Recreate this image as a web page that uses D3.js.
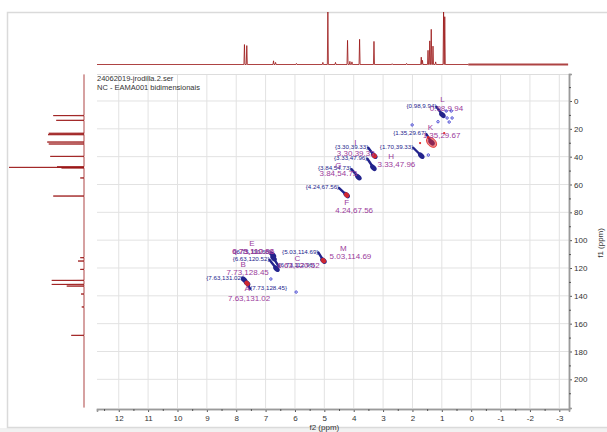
<!DOCTYPE html>
<html>
<head>
<meta charset="utf-8">
<script src="https://cdn.jsdelivr.net/npm/d3@7"></script>
<style>
  html, body { margin: 0; padding: 0; background: #fff; overflow: hidden; }
  text { font-family: "Liberation Sans", Arial, sans-serif; }
</style>
</head>
<body>
<svg id="chart" width="607" height="432"></svg>
<script>
// ---- HSQC cross peaks: letter, 1H shift (f2, ppm), 13C shift (f1, ppm), phase
const peakLetters = ["A", "B", "C", "D", "E", "F", "G", "H", "I", "J", "K", "L", "M"];
const peakH = [7.63, 7.73, 6.63, 6.73, 6.75, 4.24, 3.84, 1.70, 3.30, 3.33, 1.35, 0.98, 5.03];
const peakC = [131.02, 128.45, 120.52, 112.96, 110.68, 67.56, 54.73, 39.33, 39.33, 47.96, 29.67, 9.94, 114.69];
const peakPhase = ["neg", "pos", "pos", "pos", "pos", "neg", "pos", "pos", "neg", "pos", "neg", "pos", "neg"];

// small contour fragments (noise) around the cross peaks
const noiseH = [2.01, 1.13, 0.85, 0.68, 0.82, 0.65, 0.75, 1.46, 6.82, 5.96];
const noiseC = [17.2, 14.9, 7.2, 7.2, 12.2, 12.2, 15.1, 38.8, 127.9, 137.3];
const noiseNegH = [1.74, 0.92, 1.47];
const noiseNegC = [30.2, 23.0, 26.0];

// 1H projection (top trace): shift and relative intensity
const topPpm = [7.72, 7.64, 6.73, 6.66, 5.95, 5.05, 4.88, 4.62, 4.21, 4.13, 4.06, 3.80, 3.31,
                2.69, 2.20, 1.70, 1.66, 1.47, 1.41, 1.36, 1.30, 1.21, 0.94, 0.90];
const topInt = [38, 36, 7, 4, 2, 4, 100, 4, 46, 6, 5, 48, 44,
                1.5, 2, 14, 8, 27, 45, 67, 35, 5, 100, 91];
const topNoisyRange = [0.1, -3.3];

// 13C projection (left trace): shift and relative intensity
const leftPpm = [10.5, 13.9, 23.2, 24.2, 29.5, 30.9, 39.8, 47.3, 47.7, 48.1, 55.3, 68.3,
                 112.6, 115.0, 121.0, 128.9, 131.8, 133.0, 138.7, 148.0, 168.4];
const leftInt = [41, 37, 47, 48, 49, 47, 45, 36, 100, 30, 5, 41,
                 5, 8, 5, 43, 43, 23, 4, 3, 17];

// axis ticks
const f2Ticks = d3.range(12, -3.5, -1);
const f1Ticks = d3.range(0, 201, 20);

const titleLines = ["24062019-jrodilla.2.ser", "NC - EAMA001 bidimensionais"];

// label placement for each cross peak (pixel offsets from the peak)
// tag: blue "{H,C}" label [dx, dy, anchor]; letter / value: purple texts [dx, dy]
const labelLayout = {
  A: { tag: [-4, -3, "end"],   letter: [0, 7.5],   value: [2, 18] },
  B: { tag: [6, 10, "start"],  letter: [-1, -12.5], value: [3.5, -4.5] },
  C: { tag: [-7, -8, "end"],   letter: [21, -8],   value: [22, -0.5] },
  D: { tag: [5, 9, "start"],   letter: null,       value: [-20, -4] },
  E: { tag: [-2, -1.5, "end"], letter: [-21, -9],  value: [-20, -1] },
  F: { tag: [-7.5, -6, "end"], letter: [0, 10],    value: [7.5, 18] },
  G: { tag: [-7, -7, "end"],   letter: [-20, -9],  value: [-20, -1] },
  H: { tag: [-8, -7, "end"],   letter: [-30, 3.5], value: null },
  I: { tag: [-6, -7, "end"],   letter: [-19, -11], value: [-18.5, 0] },
  J: { tag: [-6, -8, "end"],   letter: null,       value: [23, -0.5] },
  K: { tag: [-5, -7, "end"],   letter: [-1, -12],  value: [10, -4] },
  L: { tag: [-6, -7, "end"],   letter: [0, -13],   value: [4, -4] },
  M: { tag: [-5, -7, "end"],   letter: [20, -10],  value: [27, -1.5] }
};

// ---- colours
const specColor = "#9a1414";
const posColor = "#23238c";
const negColor = "#e02828";
const annColor = "#9b3b9b";
const gridColor = "#e2e2e2";
const axisColor = "#9a9a9a";

const svg = d3.select("#chart");

// page frame
svg.append("rect").attr("x", 0).attr("y", 428).attr("width", 607).attr("height", 4).attr("fill", "#f1f1f1");
svg.append("rect").attr("x", 7.5).attr("y", 12.5).attr("width", 620).attr("height", 415)
  .attr("fill", "none").attr("stroke", "#dadada").attr("stroke-width", 1.5);

// ---- scales
const plot = { left: 97, right: 569, top: 74, bottom: 408 };
const x = d3.scaleLinear().domain([12.74, -3.33]).range([plot.left, plot.right]);
const y = d3.scaleLinear().domain([-19.4, 220.6]).range([plot.top, plot.bottom]);
const topY = d3.scaleLinear().domain([0, 100]).range([64.5, 12]);
const leftX = d3.scaleLinear().domain([0, 100]).range([84, 9]);

// ---- grid
const grid = svg.append("g");
grid.selectAll("line.v").data(f2Ticks).join("line")
  .attr("x1", d => x(d)).attr("x2", d => x(d))
  .attr("y1", plot.top).attr("y2", plot.bottom)
  .attr("stroke", gridColor).attr("stroke-width", 1);
grid.selectAll("line.h").data(f1Ticks).join("line")
  .attr("x1", plot.left).attr("x2", plot.right)
  .attr("y1", d => y(d)).attr("y2", d => y(d))
  .attr("stroke", gridColor).attr("stroke-width", 1);
grid.append("line").attr("x1", plot.left).attr("x2", plot.right)
  .attr("y1", plot.top + 0.5).attr("y2", plot.top + 0.5)
  .attr("stroke", "#dddddd").attr("stroke-width", 1);

// ---- axes (plain hyphen for negative labels)
const tickFmt = d => String(d);
const xAxis = svg.append("g").attr("transform", `translate(0,${plot.bottom + 1})`)
  .call(d3.axisBottom(x).tickValues(f2Ticks).tickSize(3).tickPadding(3).tickFormat(tickFmt));
const xMinor = svg.append("g").attr("transform", `translate(0,${plot.bottom + 1})`)
  .call(d3.axisBottom(x).tickValues(d3.range(12.5, -3.4, -1)).tickSize(2).tickFormat(""));
const yAxis = svg.append("g").attr("transform", `translate(${plot.right},0)`)
  .call(d3.axisRight(y).tickValues(f1Ticks).tickSize(3).tickPadding(2).tickFormat(tickFmt));
const yMinor = svg.append("g").attr("transform", `translate(${plot.right},0)`)
  .call(d3.axisRight(y).tickValues(d3.range(-10, 220, 20)).tickSize(2).tickFormat(""));
[xAxis, xMinor, yAxis, yMinor].forEach(g => {
  g.select(".domain").attr("stroke", axisColor).attr("stroke-width", 1.5);
  g.selectAll(".tick line").attr("stroke", "#555");
  g.selectAll(".tick text").attr("fill", "#333").style("font-size", "8px")
    .style("font-family", "Liberation Sans, Arial, sans-serif");
});

svg.append("text").attr("x", x(5.0)).attr("y", 429.5).attr("text-anchor", "middle")
  .attr("fill", "#333").style("font-size", "8px").text("f2 (ppm)");
svg.append("text").attr("transform", `translate(603,${y(102)}) rotate(-90)`)
  .attr("text-anchor", "middle").attr("fill", "#333").style("font-size", "8px").text("f1 (ppm)");

// title block
svg.selectAll("text.title").data(titleLines).join("text")
  .attr("x", plot.left).attr("y", (d, i) => 80.5 + i * 9.5)
  .attr("fill", "#333").style("font-size", "7.5px").text(d => d);

// ---- 1D projections
function spikePoints(ppms, ints, hw) {
  const order = d3.range(ppms.length).sort((a, b) => ppms[b] - ppms[a]);
  const pts = [];
  order.forEach(i => {
    pts.push([ppms[i] + hw, 0], [ppms[i], ints[i]], [ppms[i] - hw, 0]);
  });
  return pts;
}

// top (1H) trace
const topPts = [[x.domain()[0], 0], ...spikePoints(topPpm, topInt, 0.018), [topNoisyRange[0], 0]];
svg.append("path")
  .attr("d", d3.line().x(d => x(d[0])).y(d => topY(d[1]))(topPts))
  .attr("fill", "none").attr("stroke", specColor).attr("stroke-width", 1).attr("stroke-opacity", 0.8);
svg.append("line")
  .attr("x1", x(topNoisyRange[0])).attr("x2", x(topNoisyRange[1]))
  .attr("y1", topY(0)).attr("y2", topY(0))
  .attr("stroke", specColor).attr("stroke-width", 1.8).attr("stroke-opacity", 0.8);

// left (13C) trace
const leftPts = [[y.domain()[0] + 0.3, 0], ...spikePoints(leftPpm, leftInt, 0.15).reverse(), [y.domain()[1] - 0.3, 0]];
svg.append("path")
  .attr("d", d3.line().x(d => leftX(d[1])).y(d => y(d[0]))(leftPts))
  .attr("fill", "none").attr("stroke", specColor).attr("stroke-width", 1).attr("stroke-opacity", 0.8);

// ---- cross peaks
const peaks = peakLetters.map((l, i) => ({ letter: l, h: peakH[i], c: peakC[i], phase: peakPhase[i] }));
const gPeaks = svg.append("g");

// connectors from the tag labels to the peaks
gPeaks.selectAll("line.conn").data(peaks).join("line")
  .attr("x1", d => x(d.h) + labelLayout[d.letter].tag[0])
  .attr("y1", d => y(d.c) + labelLayout[d.letter].tag[1] - 1)
  .attr("x2", d => x(d.h)).attr("y2", d => y(d.c))
  .attr("stroke", posColor).attr("stroke-width", 2.4).attr("stroke-linecap", "round");

// contour blobs
gPeaks.selectAll("ellipse.blob").data(peaks).join("ellipse")
  .attr("transform", d => `translate(${x(d.h)},${y(d.c)}) rotate(45)`)
  .attr("rx", 3.8).attr("ry", 2.5)
  .attr("fill", posColor);
gPeaks.selectAll("ellipse.neg").data(peaks.filter(d => d.phase === "neg")).join("ellipse")
  .attr("transform", d => `translate(${x(d.h)},${y(d.c)}) rotate(45)`)
  .attr("rx", d => d.letter === "K" ? 6 : 2.6).attr("ry", d => d.letter === "K" ? 4 : 2)
  .attr("fill", negColor).attr("fill-opacity", d => d.letter === "K" ? 0.55 : 0.9)
  .attr("stroke", negColor).attr("stroke-width", 0.8);

// noise contours
svg.selectAll("circle.noise").data(noiseH.map((h, i) => [h, noiseC[i]])).join("circle")
  .attr("cx", d => x(d[0])).attr("cy", d => y(d[1])).attr("r", 1.2)
  .attr("fill", "none").attr("stroke", "#3a3ad0").attr("stroke-width", 0.9);
svg.selectAll("circle.noiseneg").data(noiseNegH.map((h, i) => [h, noiseNegC[i]])).join("circle")
  .attr("cx", d => x(d[0])).attr("cy", d => y(d[1])).attr("r", 1.1)
  .attr("fill", negColor);

// blue tag labels "{H,C}"
const fmt = d3.format(".2f");
gPeaks.selectAll("text.tag").data(peaks).join("text")
  .attr("x", d => x(d.h) + labelLayout[d.letter].tag[0])
  .attr("y", d => y(d.c) + labelLayout[d.letter].tag[1])
  .attr("text-anchor", d => labelLayout[d.letter].tag[2])
  .attr("fill", posColor).style("font-size", "6.2px")
  .text(d => `{${fmt(d.h)},${fmt(d.c)}}`);

// purple letters
gPeaks.selectAll("text.letter").data(peaks.filter(d => labelLayout[d.letter].letter)).join("text")
  .attr("x", d => x(d.h) + labelLayout[d.letter].letter[0])
  .attr("y", d => y(d.c) + labelLayout[d.letter].letter[1])
  .attr("text-anchor", "middle").attr("fill", annColor).style("font-size", "8px")
  .text(d => d.letter);

// purple values
gPeaks.selectAll("text.value").data(peaks.filter(d => labelLayout[d.letter].value)).join("text")
  .attr("x", d => x(d.h) + labelLayout[d.letter].value[0])
  .attr("y", d => y(d.c) + labelLayout[d.letter].value[1])
  .attr("text-anchor", "middle").attr("fill", annColor).style("font-size", "8px")
  .text(d => `${fmt(d.h)},${fmt(d.c)}`);
</script>
</body>
</html>
